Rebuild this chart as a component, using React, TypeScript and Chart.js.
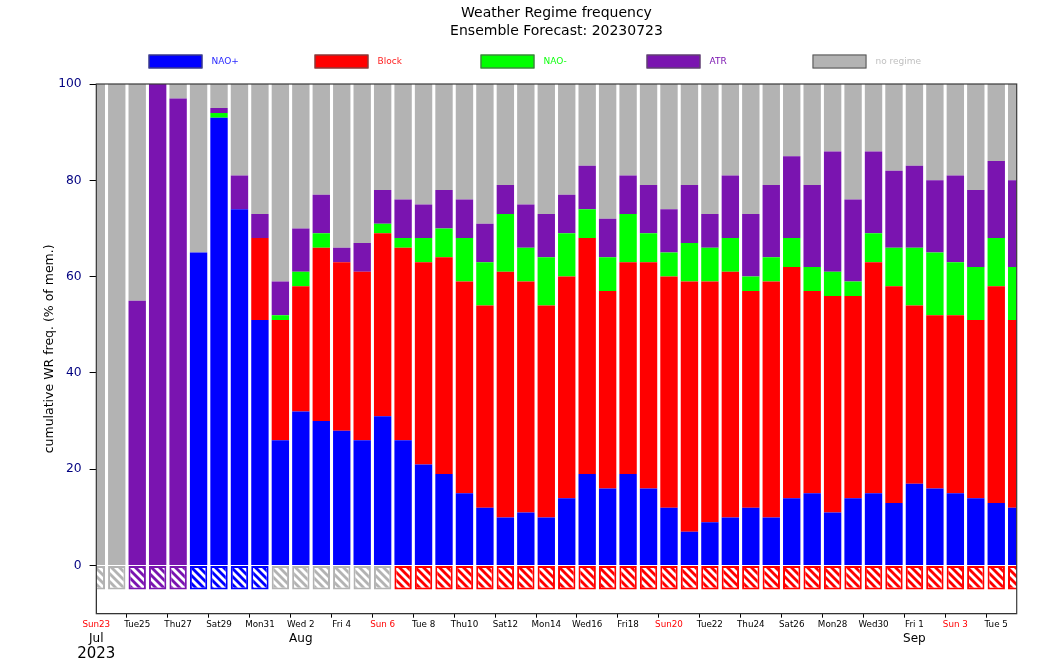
import React, { useEffect, useRef } from "react";
import { Chart, registerables } from "chart.js";

Chart.register(...registerables);

// one entry per forecast day, 23 Jul - 6 Sep 2023
const days = [
  "Sun23", "Mon24", "Tue25", "Wed26", "Thu27", "Fri28", "Sat29", "Sun30", "Mon31",
  "Tue 1", "Wed 2", "Thu 3", "Fri 4", "Sat 5", "Sun 6", "Mon 7", "Tue 8", "Wed 9",
  "Thu10", "Fri11", "Sat12", "Sun13", "Mon14", "Tue15", "Wed16", "Thu17", "Fri18",
  "Sat19", "Sun20", "Mon21", "Tue22", "Wed23", "Thu24", "Fri25", "Sat26", "Sun27",
  "Mon28", "Tue29", "Wed30", "Thu31", "Fri 1", "Sat 2", "Sun 3", "Mon 4", "Tue 5", "Wed 6",
];

// month / year labels under the day ticks (index -> text)
const monthLabels: Record<number, string> = { 0: "Jul", 10: "Aug", 40: "Sep" };
const yearLabels: Record<number, string> = { 0: "2023" };

// % of members per regime
const naoPlus = [0, 0, 0, 0, 0, 65, 93, 74, 51, 26, 32, 30, 28, 26, 31, 26, 21, 19, 15, 12, 10, 11, 10, 14, 19, 16, 19, 16, 12, 7, 9, 10, 12, 10, 14, 15, 11, 14, 15, 13, 17, 16, 15, 14, 13, 12];
const block = [0, 0, 0, 0, 0, 0, 0, 0, 17, 25, 26, 36, 35, 35, 38, 40, 42, 45, 44, 42, 51, 48, 44, 46, 49, 41, 44, 47, 48, 52, 50, 51, 45, 49, 48, 42, 45, 42, 48, 45, 37, 36, 37, 37, 45, 39];
const naoMinus = [0, 0, 0, 0, 0, 0, 1, 0, 0, 1, 3, 3, 0, 0, 2, 2, 5, 6, 9, 9, 12, 7, 10, 9, 6, 7, 10, 6, 5, 8, 7, 7, 3, 5, 6, 5, 5, 3, 6, 8, 12, 13, 11, 11, 10, 11];
const atr = [0, 0, 55, 100, 97, 0, 1, 7, 5, 7, 9, 8, 3, 6, 7, 8, 7, 8, 8, 8, 6, 9, 9, 8, 9, 8, 8, 10, 9, 12, 7, 13, 13, 15, 17, 17, 25, 17, 17, 16, 17, 15, 18, 16, 16, 18];
const noRegime = [100, 100, 45, 0, 3, 35, 5, 19, 27, 41, 30, 23, 34, 33, 22, 24, 25, 22, 24, 29, 21, 25, 27, 23, 17, 28, 19, 21, 26, 21, 27, 19, 27, 21, 15, 21, 14, 24, 14, 18, 17, 20, 19, 22, 16, 20];

// hatched boxes below zero
const hatchRegime = [
  "no regime", "no regime", "ATR", "ATR", "ATR", "NAO+", "NAO+", "NAO+", "NAO+",
  "no regime", "no regime", "no regime", "no regime", "no regime", "no regime",
  "Block", "Block", "Block", "Block", "Block", "Block", "Block", "Block", "Block", "Block",
  "Block", "Block", "Block", "Block", "Block", "Block", "Block", "Block", "Block", "Block",
  "Block", "Block", "Block", "Block", "Block", "Block", "Block", "Block", "Block", "Block", "Block",
];
const hatchDepth = [-5, -5, -5, -5, -5, -5, -5, -5, -5, -5, -5, -5, -5, -5, -5, -5, -5, -5, -5, -5, -5, -5, -5, -5, -5, -5, -5, -5, -5, -5, -5, -5, -5, -5, -5, -5, -5, -5, -5, -5, -5, -5, -5, -5, -5, -5];

const regimeColors: Record<string, string> = {
  "NAO+": "#0000ff",
  Block: "#ff0000",
  "NAO-": "#00ff00",
  ATR: "#7a14b0",
  "no regime": "#b3b3b3",
};
const legendTextColors: Record<string, string> = {
  "NAO+": "#2a2aff",
  Block: "#ff2020",
  "NAO-": "#10ff10",
  ATR: "#7a14b0",
  "no regime": "#c0c0c0",
};

const FONT = "'DejaVu Sans', sans-serif";

const makeHatch = (color: string) => {
  const c = document.createElement("canvas");
  c.width = 8;
  c.height = 8;
  const g = c.getContext("2d")!;
  g.fillStyle = "#ffffff";
  g.fillRect(0, 0, 8, 8);
  g.strokeStyle = color;
  g.lineWidth = 2.8;
  for (const off of [-8, 0, 8]) {
    g.beginPath();
    g.moveTo(-2, off - 2);
    g.lineTo(10, off + 10);
    g.stroke();
  }
  return g.createPattern(c, "repeat")!;
};

// axes frame
const framePlugin = {
  id: "frame",
  afterDatasetsDraw(chart: any) {
    const { ctx, chartArea: a } = chart;
    ctx.save();
    ctx.strokeStyle = "#3a3a3a";
    ctx.lineWidth = 1.2;
    ctx.strokeRect(a.left, a.top, a.right - a.left, a.bottom - a.top);
    ctx.restore();
  },
};

// matplotlib style legend with fixed column spacing
const legendPlugin = {
  id: "wrLegend",
  afterDraw(chart: any) {
    const { ctx } = chart;
    const items = chart.data.datasets.filter((d: any) => d.showInLegend);
    const step = 166;
    const x0 = chart.width / 2 - 383;
    const y0 = 54.5;
    ctx.save();
    ctx.font = `9px ${FONT}`;
    ctx.textBaseline = "middle";
    ctx.textAlign = "left";
    items.forEach((d: any, i: number) => {
      const x = x0 + i * step;
      ctx.fillStyle = regimeColors[d.label];
      ctx.fillRect(x, y0, 54, 14);
      ctx.strokeStyle = "#555555";
      ctx.lineWidth = 1;
      ctx.strokeRect(x + 0.5, y0 + 0.5, 53, 13);
      ctx.fillStyle = legendTextColors[d.label];
      ctx.fillText(d.label, x + 63, y0 + 7.5);
    });
    ctx.restore();
  },
};

const App = () => {
  const chartRef = useRef<HTMLCanvasElement>(null);
  const chartInstance = useRef<any>(null);

  useEffect(() => {
    if (!chartRef.current) return;
    const ctx: any = chartRef.current.getContext("2d");

    if (chartInstance.current) {
      chartInstance.current.destroy();
    }

    const patterns: Record<string, CanvasPattern> = {};
    Object.keys(regimeColors).forEach((k) => {
      patterns[k] = makeHatch(regimeColors[k]);
    });

    const series: [string, number[]][] = [
      ["NAO+", naoPlus],
      ["Block", block],
      ["NAO-", naoMinus],
      ["ATR", atr],
      ["no regime", noRegime],
    ];

    chartInstance.current = new Chart(ctx, {
      type: "bar",
      data: {
        labels: days,
        datasets: [
          ...series.map(([label, values]) => ({
            label,
            data: values,
            backgroundColor: regimeColors[label],
            borderWidth: 0,
            showInLegend: true,
          })),
          {
            label: "hatch",
            data: hatchDepth,
            backgroundColor: hatchRegime.map((r) => patterns[r]),
            borderColor: hatchRegime.map((r) => regimeColors[r]),
            borderWidth: 2,
            borderSkipped: false,
            showInLegend: false,
          },
        ] as any,
      },
      options: {
        animation: false,
        responsive: true,
        maintainAspectRatio: false,
        datasets: {
          bar: { barPercentage: 0.85, categoryPercentage: 1 },
        },
        layout: { padding: { left: 0, right: 46.3, top: 0, bottom: 0 } },
        plugins: {
          legend: { display: false },
          tooltip: { enabled: false },
          title: {
            display: true,
            fullSize: false,
            text: ["Weather Regime frequency", "Ensemble Forecast: 20230723"],
            color: "#000000",
            font: { family: FONT, size: 14, weight: "normal", lineHeight: 1.3 },
            padding: { top: 4, bottom: 43.6 },
          },
        },
        scales: {
          x: {
            type: "category",
            stacked: true,
            offset: false,
            weight: 0,
            border: { display: true, color: "#000000", width: 1 },
            grid: {
              display: true,
              drawOnChartArea: false,
              drawTicks: true,
              tickLength: 4,
              tickColor: (c: any) => (c.index % 2 === 0 ? "#000000" : "rgba(0,0,0,0)"),
            },
            ticks: {
              autoSkip: false,
              maxRotation: 0,
              minRotation: 0,
              padding: 2,
              font: { family: FONT, size: 8.75 },
              color: (c: any) => (days[c.index].startsWith("Sun") ? "#ff0000" : "#000000"),
              callback: (_v: any, i: number) => (i % 2 === 0 ? days[i] : ""),
            },
            afterFit: (s: any) => {
              s.height = 18;
            },
          },
          xMonth: {
            type: "category",
            position: "bottom",
            offset: false,
            weight: 1,
            border: { display: false },
            grid: { display: false, drawTicks: false, tickLength: 0 },
            ticks: {
              autoSkip: false,
              maxRotation: 0,
              minRotation: 0,
              padding: 0,
              color: "#000000",
              font: { family: FONT, size: 12 },
              callback: (_v: any, i: number) => monthLabels[i] ?? "",
            },
            afterFit: (s: any) => {
              s.height = 13.6;
            },
          },
          xYear: {
            type: "category",
            position: "bottom",
            offset: false,
            weight: 2,
            border: { display: false },
            grid: { display: false, drawTicks: false, tickLength: 0 },
            ticks: {
              autoSkip: false,
              maxRotation: 0,
              minRotation: 0,
              padding: 0,
              color: "#000000",
              font: { family: FONT, size: 15 },
              callback: (_v: any, i: number) => yearLabels[i] ?? "",
            },
            afterFit: (s: any) => {
              s.height = 17.7;
            },
          },
          y: {
            stacked: true,
            min: -10,
            max: 100,
            border: { display: true, color: "#000000", width: 1 },
            grid: {
              drawOnChartArea: false,
              tickLength: 6.7,
              tickColor: "#000000",
            },
            ticks: {
              stepSize: 20,
              padding: 8,
              color: "#000080",
              font: { family: FONT, size: 12.3 },
            },
            afterBuildTicks: (s: any) => {
              s.ticks = s.ticks.filter((t: any) => t.value >= 0);
            },
            title: {
              display: true,
              text: "cumulative WR freq. (% of mem.)",
              color: "#000000",
              font: { family: FONT, size: 12.5 },
              padding: { top: 41.8, bottom: 0 },
            },
            afterFit: (s: any) => {
              s.width = 96.3;
            },
          },
        },
      } as any,
      plugins: [framePlugin, legendPlugin],
    });

    return () => {
      if (chartInstance.current) {
        chartInstance.current.destroy();
        chartInstance.current = null;
      }
    };
  }, []);

  return (
    <div
      style={{
        position: "fixed",
        left: 0,
        top: 0,
        width: "1063px",
        height: "663px",
        background: "#ffffff",
      }}
    >
      <canvas ref={chartRef} style={{ display: "block" }} />
    </div>
  );
};

export default App;
